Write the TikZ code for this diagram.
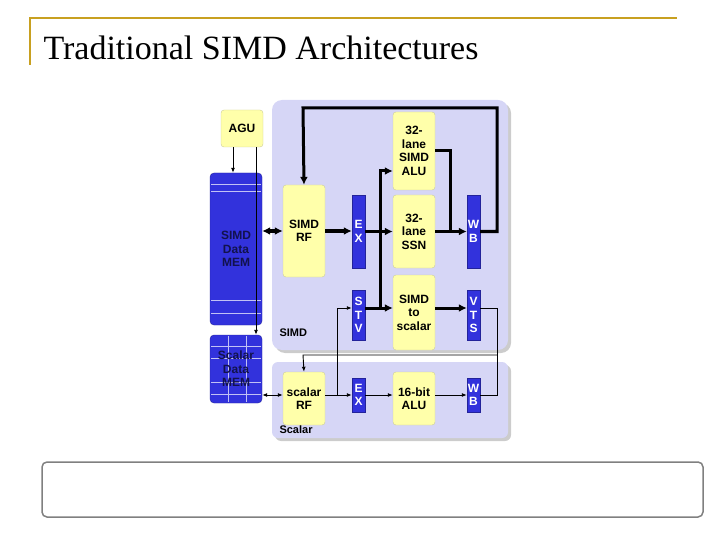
\documentclass[tikz,border=0pt]{standalone}
\usepackage{fontspec}
\setmainfont{Liberation Sans}
\newfontfamily\titlefont{Liberation Serif}
\usetikzlibrary{arrows.meta}
\definecolor{panelc}{HTML}{D6D6F6}
\definecolor{unitc}{HTML}{FFFFAA}
\definecolor{stagec}{HTML}{3232DC}
\definecolor{goldc}{HTML}{C8A020}
\tikzset{
  unit/.style={draw=unitc!60!gray, fill=unitc, rounded corners=3pt, minimum width=42pt, inner sep=0pt, align=center, font=\bfseries\fontsize{12}{13.5}\selectfont},
  stage/.style={draw=stagec!70!black, fill=stagec, text=white, minimum width=13pt, inner sep=0pt, align=center, font=\bfseries\fontsize{12}{13.5}\selectfont},
  mem/.style={draw=stagec!70!black, fill=stagec, rounded corners=4pt, minimum width=52pt, inner sep=0pt},
  memtext/.style={align=center, inner sep=0pt, text=stagec!35!black, font=\bfseries\fontsize{12}{13.5}\selectfont},
  thick arrow/.style={line width=3pt, -{Latex[length=8pt,width=8pt]}},
  thin arrow/.style={line width=0.9pt, -{Latex[length=5pt,width=4pt]}}
}
\begin{document}
\begin{tikzpicture}[x=1pt,y=-1pt]
    \useasboundingbox (0,0) rectangle (720,540);
    % title frame
    \draw[goldc, line width=1.2pt] (30,65) -- (30,18) -- (677,18);
    \node[anchor=west, font=\titlefont\fontsize{34}{36}\selectfont] (title) at (40,48) {Traditional SIMD Architectures};
    % panels
    \fill[gray!40, rounded corners=10pt] (275,103) rectangle (511,353);
    \fill[panelc, rounded corners=10pt] (272,100) rectangle (508,350);
    \fill[gray!40, rounded corners=6pt] (275,365) rectangle (511,441);
    \fill[panelc, rounded corners=6pt] (272,362) rectangle (508,438);
    \node[anchor=west, font=\bfseries\fontsize{11}{12}\selectfont] (simdlbl) at (276,333) {SIMD};
    \node[anchor=west, font=\bfseries\fontsize{11}{12}\selectfont] (scalarlbl) at (276,430) {Scalar};
    % bottom box
    \draw[gray, line width=1.5pt, rounded corners=5pt] (42,462) rectangle (703,517);

    \path
    (242,128.5) node[unit, minimum height=37pt](AGU) {AGU}
    (236,249) node[mem, minimum height=152pt](SMEM) {}
    (236,369) node[mem, minimum height=68pt](CMEM) {}
    (304,231) node[unit, minimum height=92pt](SRF) {SIMD\\RF}
    (358.5,231.5) node[stage, minimum height=73pt](SEX) {E\\X}
    (358.5,315) node[stage, minimum height=50pt](STV) {S\\T\\V}
    (414,151) node[unit, minimum height=78pt](SALU) {32-\\lane\\SIMD\\ALU}
    (414,231.5) node[unit, minimum height=73pt](SSN) {32-\\lane\\SSN}
    (414,312.5) node[unit, minimum height=75pt](S2S) {SIMD\\to\\scalar}
    (473.5,231.5) node[stage, minimum height=73pt](SWB) {W\\B}
    (473.5,315) node[stage, minimum height=50pt](VTS) {V\\T\\S}
    (304,398.5) node[unit, minimum height=53pt](CRF) {scalar\\RF}
    (358.5,395) node[stage, minimum height=34pt](CEX) {E\\X}
    (414,398.5) node[unit, minimum height=53pt](CALU) {16-bit\\ALU}
    (473.5,395) node[stage, minimum height=34pt](CWB) {W\\B};

    % memory grid lines
    \draw[white!70!stagec, line width=0.4pt] (211,184) -- (261,184) (211,191) -- (261,191) (211,300) -- (261,300) (211,313) -- (261,313);
    \draw[white!70!stagec, line width=0.4pt] (211,346) -- (261,346) (211,358) -- (261,358) (211,382) -- (261,382) (211,394) -- (261,394) (228,336) -- (228,402) (246,336) -- (246,402);
    \node[memtext] (smemlbl) at (SMEM) {SIMD\\Data\\MEM};
    \node[memtext] (cmemlbl) at (CMEM) {Scalar\\Data\\MEM};

    % AGU connections
    \draw[thin arrow] (AGU.south -| 233,0) -- (SMEM.north -| 233,0);
    \draw[thin arrow] (AGU.south -| 256,0) -- (CMEM.north -| 256,0);
    % SIMD datapath
    \draw[line width=3pt, {Latex[length=8pt,width=8pt]}-{Latex[length=8pt,width=8pt]}] (SMEM.east |- SRF) -- (SRF.west);
    \draw[thick arrow] (SRF.east) -- (SEX.west |- SRF);
    \draw[thick arrow] (SEX.east |- SSN) -- (SSN.west);
    \draw[thick arrow] (SSN.east) -- (SWB.west |- SSN);
    \draw[line width=3pt] (SALU.east) -- (450,151) -- (450,231.5);
    \draw[thick arrow] (380,231.5) -- (380,171) -- (SALU.west |- 0,171);
    \draw[thick arrow] (STV.east |- 0,308) -- (S2S.west |- 0,308);
    \draw[line width=3pt] (380,231.5) -- (380,308);
    \draw[thick arrow] (S2S.east |- 0,308) -- (VTS.west |- 0,308);
    \draw[thick arrow] (SWB.east) -- (497,231.5) -- (497,108) -- (303,108) -- (SRF.north);
    % scalar datapath
    \draw[line width=0.9pt, {Latex[length=5pt,width=4pt]}-{Latex[length=5pt,width=4pt]}] (CMEM.east |- 0,395) -- (CRF.west |- 0,395);
    \draw[thin arrow] (CRF.east |- CEX) -- (CEX.west);
    \draw[thin arrow] (337,395) -- (337,308) -- (STV.west |- 0,308);
    \draw[thin arrow] (CEX.east) -- (CALU.west |- CEX);
    \draw[thin arrow] (CALU.east |- CWB) -- (CWB.west);
    \draw[line width=0.9pt] (VTS.east |- 0,308) -- (497,308) -- (497,395) -- (CWB.east);
    \draw[thin arrow] (497,355) -- (303,355) -- (CRF.north);
\end{tikzpicture}
\end{document}
